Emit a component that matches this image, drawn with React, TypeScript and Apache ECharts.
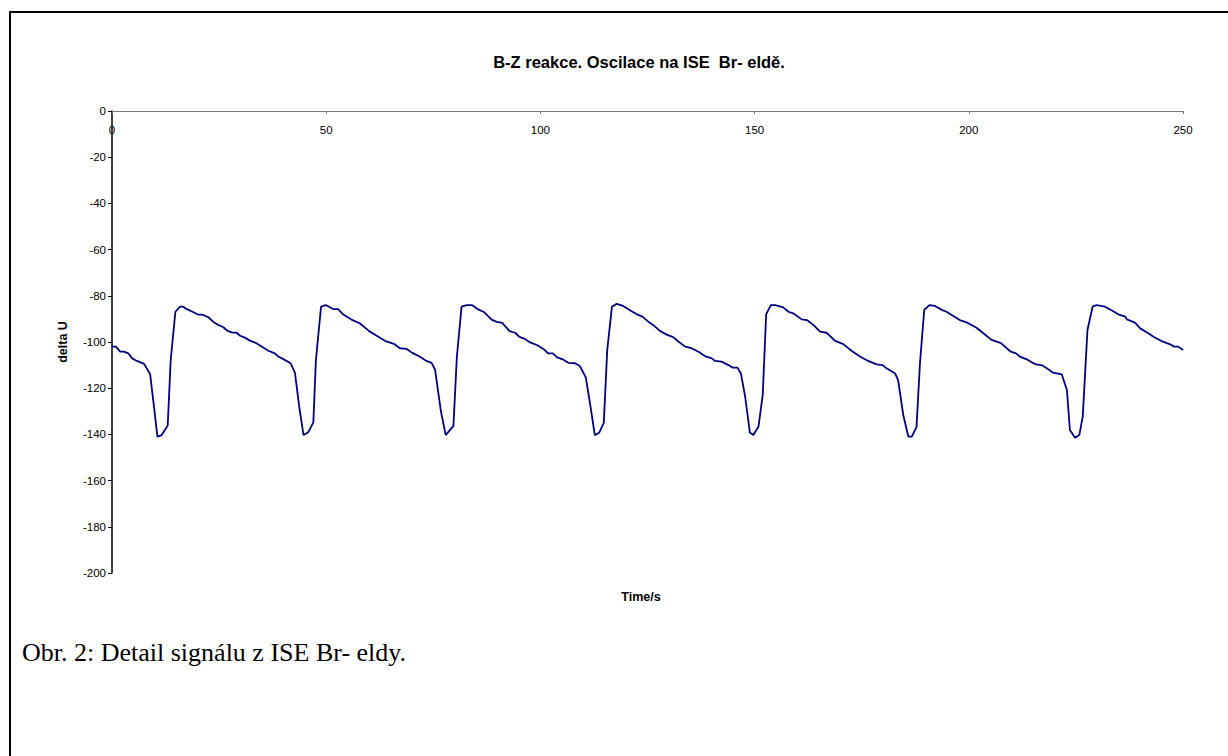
import React, { useEffect, useRef } from "react";
import * as echarts from "echarts";

const titleText = "B-Z reakce. Oscilace na ISE  Br- eldě.";
const yAxisName = "delta U";
const xAxisName = "Time/s";
const captionText = "Obr. 2: Detail signálu z ISE Br- eldy.";

const xMin = 0;
const xMax = 250;
const xStep = 50;
const yMin = -200;
const yMax = 0;
const yStep = 20;

const times: number[] = [
  0, 0.9, 1.9, 2.8, 3.8, 4.7, 5.8, 7.5, 8.9, 9.8, 10.6, 11.6, 13.0, 13.7, 14.8, 15.9, 16.6, 17.6, 18.8, 19.9,
  21.3, 22.5, 23.6, 24.8, 26.0, 26.9, 27.9, 29.1, 29.9, 31.0, 32.2, 33.8, 35.3, 36.5, 38.0, 38.8, 40.0, 41.7,
  42.7, 43.7, 44.7, 45.8, 47.0,
  47.6, 48.8, 49.9, 51.7, 52.8, 54.0, 55.9, 57.9, 60.1, 61.8, 63.7, 65.8, 67.2, 68.8, 70.0, 71.9, 73.4, 74.6,
  75.4, 76.8, 77.9, 79.7,
  80.5, 81.6, 82.8, 84.0, 85.5, 86.8, 88.6, 89.8, 91.1, 92.8, 94.1, 95.1, 96.2, 97.6, 99.3, 100.7, 101.8, 102.9,
  103.9, 105.2, 106.5, 108.1, 109.2, 110.6, 111.7, 112.7, 113.7, 114.8,
  115.6, 116.7, 117.8, 119.3, 121.0, 122.4, 123.8, 125.2, 126.3, 127.9, 129.6, 131.0, 132.2, 133.8, 135.3,
  136.9, 138.4, 140.0, 140.8, 142.3, 143.9, 144.9, 146.0, 146.8, 147.8, 148.9, 149.7, 150.9, 151.9,
  152.7, 153.8, 154.8, 156.7, 157.9, 159.0, 161.0, 162.2, 163.7, 165.3, 166.8, 168.8, 170.7, 172.7, 174.6,
  176.5, 178.5, 179.9, 180.8, 182.8, 183.5, 184.7, 185.9, 186.7, 187.8,
  188.6, 189.6, 190.8, 192.1, 193.7, 194.8, 196.0, 197.9, 199.5, 201.8, 203.4, 205.3, 207.5, 209.8, 211.0,
  211.9, 213.4, 214.7, 215.7, 217.0, 218.2, 219.7, 221.7, 222.9, 223.6, 224.8, 225.8, 226.6,
  227.7, 228.9, 229.8, 231.8, 233.4, 234.9, 236.5, 236.9, 238.8, 240.0, 241.9, 243.1, 245.0, 247.0, 247.9,
  248.9, 250.0,
];

const deltaU: number[] = [
  -102, -102, -104.2, -104.2, -104.9, -107.1, -108.2, -109.5, -113.9, -128, -141, -140.3, -136.2, -107.8, -86.9,
  -84.7, -84.7, -85.9, -86.9, -88.0, -88.3, -89.3, -91.2, -92.6, -93.6, -95.1, -95.8, -96.0, -97.3, -98.1, -99.4,
  -100.6, -102.4, -103.8, -104.9, -106.3, -107.4, -109.2, -113.3, -128, -140.3, -139.1, -134.8,
  -107.8, -84.7, -84, -85.8, -85.8, -88.1, -90.3, -92, -95.4, -97.3, -99.5, -100.8, -102.7, -103, -104.6, -106.4,
  -108.2, -109, -111.9, -130.2, -140.3, -136.3,
  -106.4, -84.7, -84, -84, -85.9, -87, -90.3, -91.3, -91.7, -95.3, -96, -97.8, -98.5, -100.2, -101.4, -103, -104.9,
  -104.9, -106.7, -107.5, -109, -109.2, -110.4, -115.3, -128, -140.3, -139.3, -135,
  -103.5, -84.7, -83.5, -84.4, -86.4, -87.9, -89, -91.2, -92.6, -95.2, -96.9, -97.9, -99.8, -102.0, -102.7,
  -104.2, -106.1, -107.1, -108.2, -108.5, -110.0, -111.1, -111.1, -113.6, -123.7, -139.2, -140.3, -136.7, -122.9,
  -88.0, -84.0, -84.0, -85.0, -86.9, -87.6, -90.2, -90.5, -92.6, -95.5, -96.0, -99.5, -100.9, -103.9, -106.3,
  -108.2, -109.7, -110.0, -111.4, -113.6, -116.5, -131.6, -141.0, -141.0, -136.7,
  -109.2, -86.1, -84.0, -84.4, -86.1, -86.9, -88.3, -90.5, -91.5, -93.8, -96.2, -99.1, -100.5, -104.2, -104.9,
  -106.3, -107.4, -108.8, -109.7, -110.0, -111.4, -113.3, -114.0, -120.8, -138.1, -141.4, -140.3, -132.3,
  -94.8, -84.7, -84.0, -84.7, -86.4, -88.0, -89.0, -90.2, -91.6, -94.1, -96.2, -97.7, -99.6, -101.0, -102.0,
  -102.0, -103.5,
];

export default function App() {
  const ref = useRef<HTMLDivElement>(null);

  useEffect(() => {
    if (!ref.current) return;
    const chart = echarts.init(ref.current, null, { renderer: "svg" });
    const data = times.map((t, i) => [t, deltaU[i]]);
    const sans = "'Liberation Sans', Arial, sans-serif";
    chart.setOption({
      animation: false,
      backgroundColor: "#ffffff",
      grid: { left: 112, right: 45, top: 111, bottom: 183 },
      xAxis: {
        type: "value",
        position: "top",
        min: xMin,
        max: xMax,
        interval: xStep,
        axisLine: { show: true, onZero: false, lineStyle: { color: "#7a7a7a", width: 1 } },
        axisTick: { show: true, inside: true, length: 3, lineStyle: { color: "#7a7a7a" } },
        axisLabel: { inside: true, margin: 13, color: "#000", fontSize: 11.5, fontFamily: sans },
        splitLine: { show: false },
      },
      yAxis: {
        type: "value",
        min: yMin,
        max: yMax,
        interval: yStep,
        name: yAxisName,
        nameLocation: "middle",
        nameRotate: 90,
        nameGap: 43,
        nameTextStyle: { color: "#000", fontSize: 12.5, fontWeight: "bold", fontFamily: sans },
        axisLine: { show: true, lineStyle: { color: "#000", width: 1.5 } },
        axisTick: { show: true, length: 4, lineStyle: { color: "#000" } },
        axisLabel: { margin: 6, color: "#000", fontSize: 11.5, fontFamily: sans },
        splitLine: { show: false },
      },
      series: [
        {
          type: "line",
          data,
          showSymbol: false,
          symbol: "none",
          lineStyle: { color: "#000080", width: 1.8 },
          clip: false,
        },
      ],
      graphic: [
        {
          type: "rect",
          shape: { x: 10, y: 12, width: 1400, height: 1000 },
          style: { fill: "none", stroke: "#000", lineWidth: 2 },
          silent: true,
        },
        {
          type: "text",
          x: 639,
          y: 62,
          style: {
            text: titleText,
            fill: "#000",
            font: "bold 16.5px 'Liberation Sans', Arial, sans-serif",
            textAlign: "center",
            textVerticalAlign: "middle",
          },
        },
        {
          type: "text",
          x: 641,
          y: 597,
          style: {
            text: xAxisName,
            fill: "#000",
            font: "bold 12.5px 'Liberation Sans', Arial, sans-serif",
            textAlign: "center",
            textVerticalAlign: "middle",
          },
        },
        {
          type: "text",
          x: 22,
          y: 652,
          style: {
            text: captionText,
            fill: "#000",
            font: "26px 'Liberation Serif', 'Times New Roman', serif",
            textAlign: "left",
            textVerticalAlign: "middle",
          },
        },
      ],
    });
    return () => chart.dispose();
  }, []);

  return (
    <div
      ref={ref}
      style={{ position: "absolute", left: 0, top: 0, width: 1228, height: 756, background: "#fff" }}
    />
  );
}
